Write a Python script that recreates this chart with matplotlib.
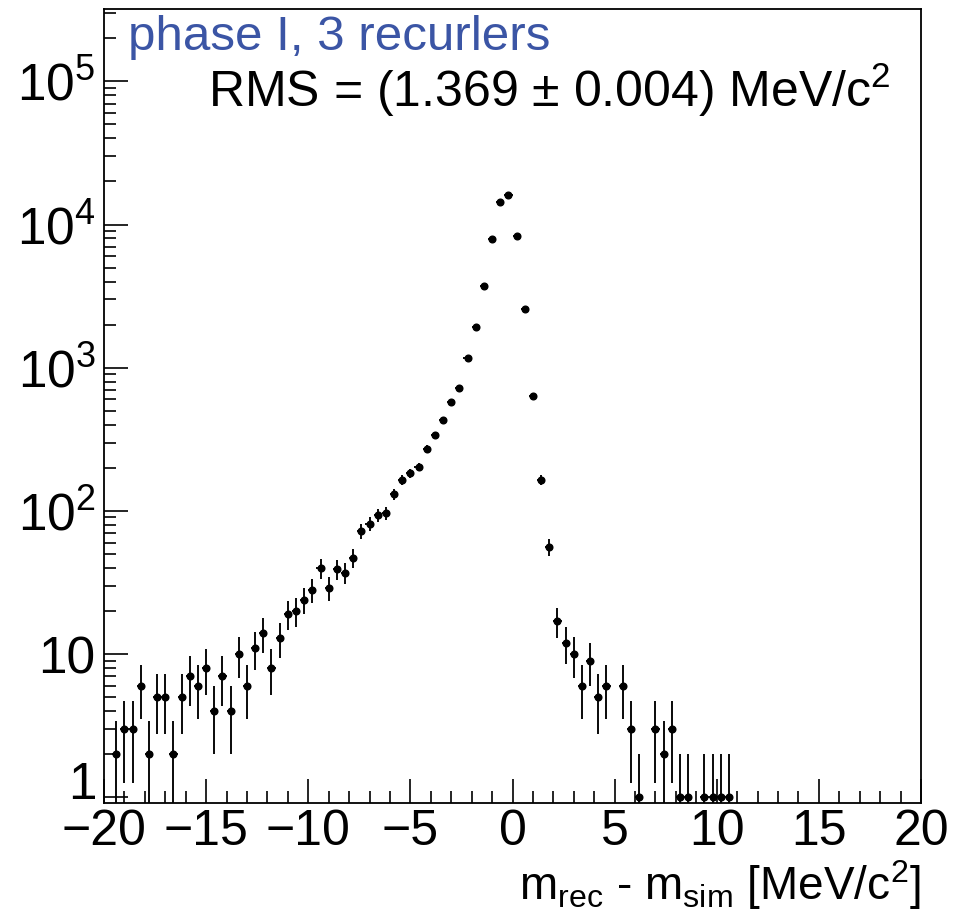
import numpy as np
import matplotlib
matplotlib.use("Agg")
import matplotlib.pyplot as plt
from matplotlib.ticker import MultipleLocator, LogLocator, FuncFormatter, NullFormatter
from matplotlib.transforms import ScaledTranslation

plt.rcParams["font.family"] = ["Liberation Sans", "DejaVu Sans"]
plt.rcParams["mathtext.fontset"] = "custom"
plt.rcParams["mathtext.rm"] = "Liberation Sans"
plt.rcParams["mathtext.it"] = "Liberation Sans:italic"
plt.rcParams["mathtext.bf"] = "Liberation Sans:bold"

# Histogram of reconstructed minus simulated mass, 0.4 MeV/c^2 bins (non-empty bins only)
bin_centers = [
    -19.4, -19.0, -18.6, -18.2, -17.8, -17.4, -17.0, -16.6, -16.2, -15.8,
    -15.4, -15.0, -14.6, -14.2, -13.8, -13.4, -13.0, -12.6, -12.2, -11.8,
    -11.4, -11.0, -10.6, -10.2, -9.8, -9.4, -9.0, -8.6, -8.2, -7.8,
    -7.4, -7.0, -6.6, -6.2, -5.8, -5.4, -5.0, -4.6, -4.2, -3.8,
    -3.4, -3.0, -2.6, -2.2, -1.8, -1.4, -1.0, -0.6, -0.2, 0.2,
    0.6, 1.0, 1.4, 1.8, 2.2, 2.6, 3.0, 3.4, 3.8, 4.2,
    4.6, 5.4, 5.8, 6.2, 7.0, 7.4, 7.8, 8.2, 8.6, 9.4,
    9.8, 10.2, 10.6,
]
counts = [
    2, 3, 3, 6, 2, 5, 5, 2, 5, 7,
    6, 8, 4, 7, 4, 10, 6, 11, 14, 8,
    13, 19, 20, 24, 28, 40, 29, 39, 37, 47,
    72, 81, 94, 96, 131, 164, 184, 203, 272, 339,
    433, 576, 726, 1164, 1924, 3740, 7960, 14290, 16000, 8310,
    2558, 634, 164, 56, 17, 12, 10, 6, 9, 5,
    6, 6, 3, 1, 3, 2, 3, 1, 1, 1,
    1, 1, 1,
]
bin_width = 0.4

label_text = "phase I, 3 recurlers"
rms_text = r"RMS = (1.369 $\pm$ 0.004) MeV/c$^{2}$"
x_title = r"m$_{\mathregular{rec}}$ - m$_{\mathregular{sim}}$ [MeV/c$^{2}$]"

W, H = 965, 918
fig = plt.figure(figsize=(W / 100, H / 100), dpi=100)
ax = fig.add_axes([104 / W, (H - 803.3) / H, 817 / W, 794.3 / H])

x = np.array(bin_centers)
y = np.array(counts, dtype=float)
yerr = np.sqrt(y)
ax.errorbar(x, y, yerr=yerr, xerr=bin_width / 2, fmt="o", ms=4.8, color="black",
            ecolor="black", elinewidth=1.35, capsize=0, zorder=3)

ax.set_yscale("log")
ax.set_xlim(-20, 20)
ax.set_ylim(0.908, 3.2e5)

ax.xaxis.set_major_locator(MultipleLocator(5))
ax.xaxis.set_minor_locator(MultipleLocator(1))
ax.yaxis.set_major_locator(LogLocator(base=10, numticks=20))
ax.yaxis.set_minor_locator(LogLocator(base=10, subs=np.arange(2, 10), numticks=20))
ax.yaxis.set_minor_formatter(NullFormatter())


def y_fmt(v, pos):
    e = int(round(np.log10(v)))
    if e == 0:
        return r"$\mathregular{1}$"
    if e == 1:
        return "10"
    return r"10$^{%d}$" % e


ax.yaxis.set_major_formatter(FuncFormatter(y_fmt))

for s in ax.spines.values():
    s.set_linewidth(1.3)
ax.tick_params(which="both", direction="in", top=False, right=False, width=1.2)
ax.tick_params(which="major", length=17.3)
ax.tick_params(axis="x", which="major", pad=4, labelsize=36)
ax.tick_params(axis="y", which="major", pad=6, labelsize=37)
ax.tick_params(which="minor", length=8.6)

# axis title, right-aligned with the frame
fig.text(921 / W, (H - 900) / H, x_title, fontsize=33, color="black",
         ha="right", va="baseline")

fig.text(128 / W, (H - 50) / H, label_text, fontsize=35.5, color="#3b55a5",
         ha="left", va="baseline")
fig.text(208 / W, (H - 107) / H, rms_text, fontsize=36, color="black",
         ha="left", va="baseline")

fig.canvas.draw()
# sit the bottom "1" label on a baseline just above the x tick labels
for t in ax.yaxis.get_major_ticks():
    if "1" == t.label1.get_text().replace(r"$\mathregular{", "").replace("}$", ""):
        t.label1.set_verticalalignment("baseline")
        t.label1.set_transform(t.label1.get_transform()
                               + ScaledTranslation(0, -2 / 100, fig.dpi_scale_trans))

fig.savefig("out.png", dpi=100)
